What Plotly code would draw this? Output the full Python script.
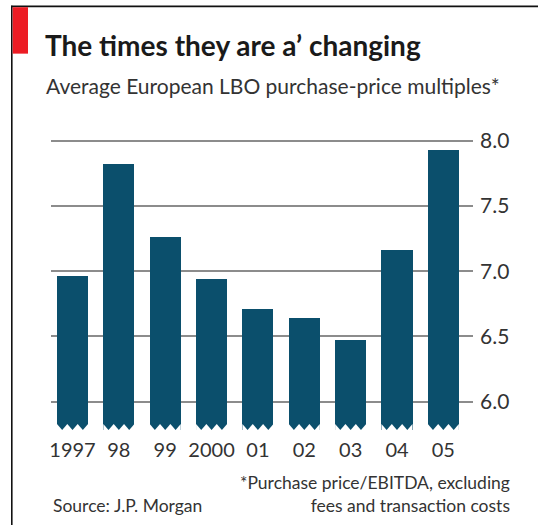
import plotly.graph_objects as go

years = ["1997", "98", "99", "2000", "01", "02", "03", "04", "05"]
multiples = [6.96, 7.82, 7.26, 6.94, 6.71, 6.64, 6.47, 7.16, 7.93]
y_ticks = [6.0, 6.5, 7.0, 7.5, 8.0]
y_tick_labels = ["6.0", "6.5", "7.0", "7.5", "8.0"]

title = "The times they are a\u2019 changing"
subtitle = "Average European LBO purchase-price multiples*"
source = "Source: J.P. Morgan"
footnote = "*Purchase price/EBITDA, excluding<br>fees and transaction costs"

BAR = "#0b4f6c"
FONT = "Lato"
WIDTH, HEIGHT = 538, 525
L, R, T, B = 51, 473, 133.5, 430
PW, PH = R - L, B - T

Y_BOTTOM, Y_TOP = 5.784, 8.05
X_LO, X_HI = -0.464, 8.64
BAR_W = 0.67
NOTCH = 5.83


def px(xp):
    return (xp - L) / PW


def py(yp):
    return (B - yp) / PH


fig = go.Figure()
fig.add_trace(go.Bar(
    x=list(range(len(years))), y=multiples, width=BAR_W,
    marker=dict(color=BAR, line=dict(width=0)),
    hoverinfo="skip",
))

shapes = []
# zigzag cut at the bottom of each bar (broken axis)
for i in range(len(years)):
    x0 = i - BAR_W / 2
    s = BAR_W / 6
    tris = [
        [(x0, Y_BOTTOM), (x0, NOTCH), (x0 + s, Y_BOTTOM)],
        [(x0 + s, Y_BOTTOM), (x0 + 2 * s, NOTCH), (x0 + 3 * s, Y_BOTTOM)],
        [(x0 + 3 * s, Y_BOTTOM), (x0 + 4 * s, NOTCH), (x0 + 5 * s, Y_BOTTOM)],
        [(x0 + 5 * s, Y_BOTTOM), (x0 + 6 * s, NOTCH), (x0 + 6 * s, Y_BOTTOM)],
    ]
    for tri in tris:
        path = "M " + " L ".join(f"{a},{b}" for a, b in tri) + " Z"
        shapes.append(dict(type="path", path=path, xref="x", yref="y",
                           fillcolor="white", line=dict(width=0), layer="above"))

# frame lines and red tag
shapes.append(dict(type="line", xref="paper", yref="paper",
                   x0=px(11.8), x1=px(11.8), y0=py(5), y1=py(530),
                   line=dict(color="#111111", width=1.6)))
shapes.append(dict(type="line", xref="paper", yref="paper",
                   x0=px(11), x1=px(540), y0=py(5.6), y1=py(5.6),
                   line=dict(color="#111111", width=1.8)))
shapes.append(dict(type="rect", xref="paper", yref="paper",
                   x0=px(12.7), x1=px(28), y0=py(6.5), y1=py(53),
                   fillcolor="#ec1c24", line=dict(width=0)))

annotations = [
    dict(text=f"<b>{title}</b>", x=px(43), y=py(44), xanchor="left", yanchor="middle",
         font=dict(family=FONT, size=28, color="#1a1a1a")),
    dict(text=subtitle, x=px(44), y=py(85), xanchor="left", yanchor="middle",
         font=dict(family=FONT, size=21, color="#333333")),
    dict(text=source, x=px(51), y=py(506), xanchor="left", yanchor="middle",
         font=dict(family=FONT, size=17.5, color="#333333")),
    dict(text=footnote, x=px(512), y=py(494), xanchor="right", yanchor="middle",
         align="right", font=dict(family=FONT, size=17.5, color="#333333")),
]
for a in annotations:
    a.update(xref="paper", yref="paper", showarrow=False)

fig.update_layout(
    width=WIDTH, height=HEIGHT,
    margin=dict(l=L, r=WIDTH - R, t=T, b=HEIGHT - B, pad=0),
    paper_bgcolor="white", plot_bgcolor="white",
    showlegend=False, bargap=0,
    shapes=shapes, annotations=annotations,
    xaxis=dict(range=[X_LO, X_HI], tickmode="array",
               tickvals=list(range(len(years))), ticktext=years,
               showgrid=False, zeroline=False, showline=False, ticks="",
               ticklabelstandoff=6,
               tickfont=dict(family=FONT, size=20, color="#333333")),
    yaxis=dict(range=[Y_BOTTOM, Y_TOP], side="right", tickmode="array",
               tickvals=y_ticks, ticktext=y_tick_labels,
               showgrid=True, gridcolor="#8c8c8c", gridwidth=2,
               zeroline=False, showline=False, ticks="",
               ticklabelstandoff=6,
               tickfont=dict(family=FONT, size=21, color="#333333")),
)

fig.write_html("out.html", config={"displayModeBar": False},
               post_script="document.body.style.margin='0px';")
